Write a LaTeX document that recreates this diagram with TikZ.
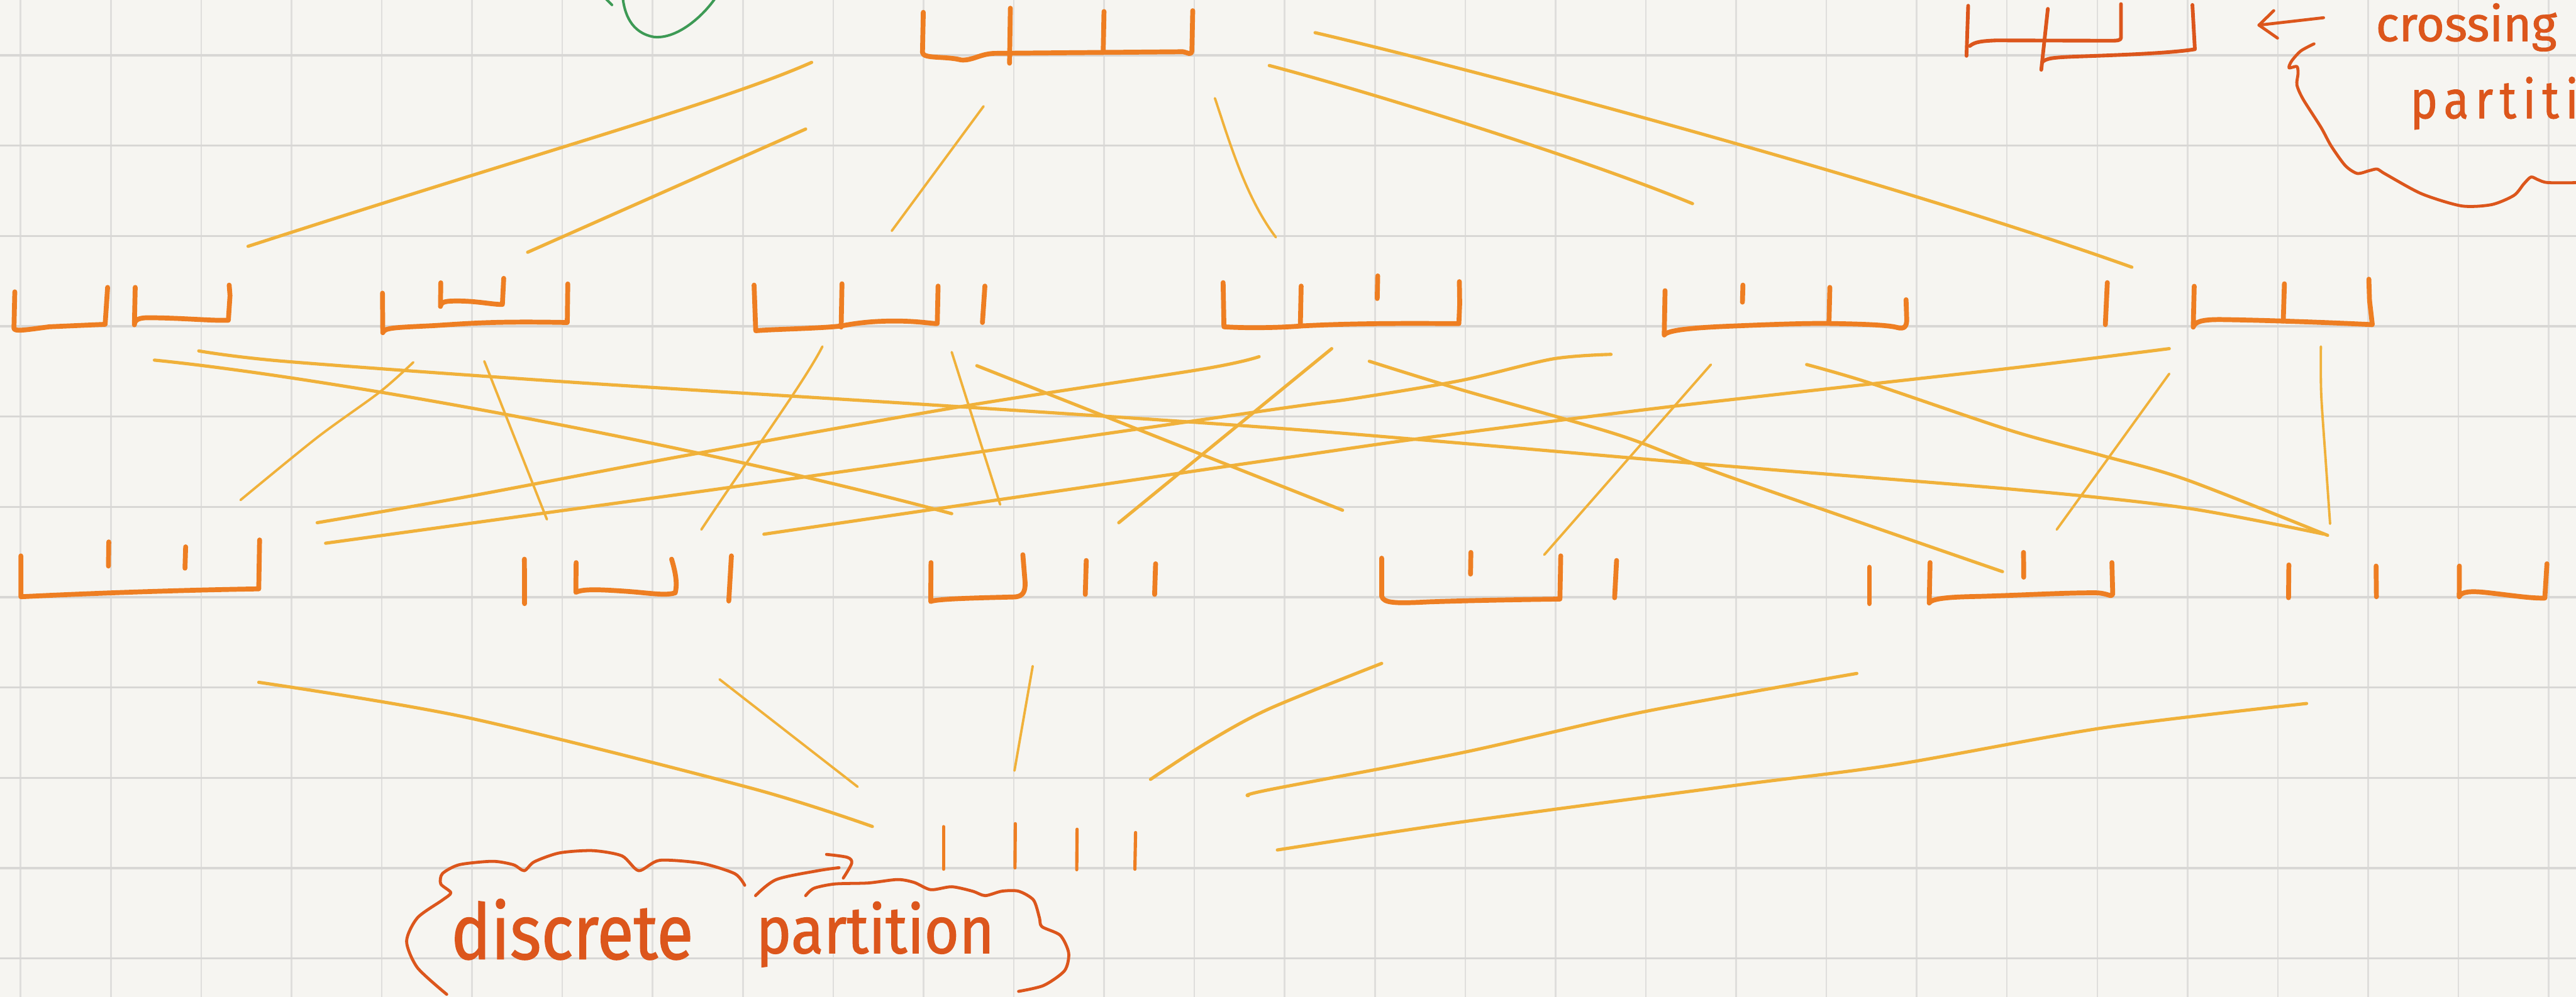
\documentclass[tikz,border=0pt]{standalone}
\usepackage{fontspec}
\setmainfont{Fira Sans}
\newfontfamily\hand{Fira Sans}[FakeBold=1.2]
\newfontfamily\handwide{Fira Sans}[FakeBold=1.2, LetterSpace=14]
\definecolor{paper}{HTML}{F6F5F1}
\definecolor{gridv}{HTML}{DFDEDC}
\definecolor{gridh}{HTML}{D8D7D5}
\definecolor{partc}{HTML}{EE7E22}
\definecolor{edgec}{HTML}{F0B13A}
\definecolor{inkc}{HTML}{DC561C}
\definecolor{greenc}{HTML}{3D9A55}
\tikzset{
 part/.style={draw=partc, line width=4.2pt, line cap=round, line join=round},
 thinpart/.style={part, line width=2.8pt},
 edge/.style={draw=edgec, line width=2.8pt, line cap=round, line join=round},
 thinedge/.style={edge, line width=2.1pt},
 ink/.style={draw=inkc, line width=2.6pt, line cap=round, line join=round},
 inkpart/.style={draw=inkc, line width=3.2pt, line cap=round, line join=round},
 inktext/.style={text=inkc, inner sep=0pt, anchor=base west},
 greenline/.style={draw=greenc, line width=2.2pt, line cap=round},
}
\begin{document}
\begin{tikzpicture}[x=0.05cm,y=-0.05cm]
\fill[paper] (0,0) rectangle (1568,607);
\useasboundingbox (0,0) rectangle (1568,607);
\clip (0,0) rectangle (1568,607);
% grid
\foreach \i in {0,...,28} \draw[draw=gridv, line width=1.4pt] ({12.5+54.96*\i},0) -- ({12.5+54.96*\i},607);
\foreach \j in {0,...,10} \draw[draw=gridh, line width=1.8pt] (0,{33.7+55*\j}) -- (1568,{33.7+55*\j});

% green stroke
\draw[greenline] (379,-2) .. controls (380,8) and (384,20) .. (398,22.5) .. controls (412,24) and (428,10) .. (436,-2);
\draw[greenline] (368.5,-1) -- (372.5,3);

% ===== top partition {1234}
\draw[part] (562,7.5) -- (561.5,32) .. controls (562,36) and (575,34) .. (585,36.5) .. controls (592,37) and (596,33) .. (605,32.5) -- (720,31.5) .. controls (723,32) and (725,34) .. (725.5,31) -- (726,6.5);
\draw[part] (615,5) -- (614.5,38.5);
\draw[part] (672,7) -- (671.5,32);

% ===== row 2
% A {12}{34}
\draw[part] (9,177.7) -- (8.5,200) .. controls (9,202) and (15,201) .. (30,199) -- (64,197.5) -- (65.5,175);
\draw[part] (82.3,175) -- (81.8,197.8) .. controls (82,195) and (84,193.5) .. (90,193.5) .. controls (110,193.5) and (130,195.5) .. (139,195) -- (140,180) -- (139.5,173.6);
% B {14}{23}
\draw[part] (232.8,178.5) -- (233,202.6) .. controls (234,199.5) and (240,199.5) .. (264,198.3) .. controls (285,197) and (300,195.5) .. (345.3,196.4) -- (345.6,172.9);
\draw[part] (268.3,172.2) -- (268.1,186.6) .. controls (268.5,183.5) and (272,183.3) .. (278,183.3) .. controls (290,183.2) and (300,185.5) .. (305.8,185.4) -- (306.6,169.5);
% C {123}{4}
\draw[part] (459,173.6) -- (460,201.4) .. controls (470,200.5) and (500,200) .. (512,198.5) .. controls (525,196) and (535,195.5) .. (545,195.5) .. controls (560,195.5) and (570,197.5) .. (570.5,197) -- (571,174.2);
\draw[part] (512.5,172.8) -- (512,199.2);
\draw[part] (599.5,174.2) -- (598,196.4);
% D {124}{3}
\draw[part] (744.5,172.1) -- (745,199) .. controls (760,200) and (780,199.5) .. (792,198.5) .. controls (820,197) and (850,196.8) .. (888,197.1) -- (888.5,185) -- (888.3,171.5);
\draw[part] (792,174.2) -- (791.5,198.5);
\draw[part] (838.6,168) -- (838.3,181.8);
% E {134}{2}
\draw[part] (1013.5,177) -- (1013,204) .. controls (1015,201) and (1030,199.5) .. (1056,198.5) .. controls (1080,197.5) and (1100,196.8) .. (1113,197) .. controls (1135,197.3) and (1150,198) .. (1155,199.5) .. controls (1159,200.5) and (1160.5,199) .. (1160.6,195) -- (1160.2,182.5);
\draw[part] (1113.8,175) -- (1113.3,196);
\draw[part] (1060.9,173.6) -- (1060.6,184);
% F {1}{234}
\draw[part] (1335.6,174.3) -- (1335,199.2) .. controls (1336,196) and (1340,194.5) .. (1352,194.6) .. controls (1380,195) and (1420,196.5) .. (1444,197.7) -- (1442.3,183) -- (1441.9,170);
\draw[part] (1390.5,172.8) -- (1389.8,195.5);
\draw[part] (1282.7,172.1) -- (1281.5,197.7);

% ===== row 3
% G {14}{2}{3}
\draw[part] (12.7,338.5) -- (12.7,363.4) .. controls (40,362) and (100,359.5) .. (157.5,358.6) -- (158,328.8);
\draw[part] (66.2,330) -- (66,344.7);
\draw[part] (113,333) -- (112.6,346);
% H {1}{23}{4}
\draw[part] (350.7,342.6) -- (350.5,360.7) .. controls (355,358.5) and (365,359) .. (380,360) .. controls (395,361) and (405,363) .. (411,361) .. controls (412.5,355) and (411,348) .. (408.8,340.5);
\draw[part] (319.2,340.5) -- (319.3,367.6);
\draw[part] (445.2,338.5) -- (443.6,366);
% I {12}{3}{4}
\draw[part] (566.7,342.6) -- (566.5,366.3) .. controls (570,364.5) and (600,364) .. (618,363.5) .. controls (623,363) and (624,360) .. (624,355) -- (622.6,337.8);
\draw[part] (661.2,341.3) -- (660.6,362);
\draw[part] (703.4,343.3) -- (702.8,362);
% J {13}{2}{4}
\draw[part] (841,339.9) -- (841,363) .. controls (842,367.5) and (850,367.5) .. (870,366.5) .. controls (900,365.5) and (935,365) .. (949.5,364.8) -- (950,338.5);
\draw[part] (895.3,336.4) -- (895.1,349.6);
\draw[part] (984,341.3) -- (982.8,364);
% K {1}{24}{3}
\draw[part] (1174.8,342.6) -- (1174.3,367.2) .. controls (1176,364) and (1190,363.5) .. (1204,363.2) .. controls (1230,362.5) and (1255,361) .. (1275,361) .. controls (1283,361) and (1285,364) .. (1286,362) -- (1285.5,342.6);
\draw[part] (1137.9,345.4) -- (1137.9,367.6);
\draw[part] (1231.7,336.4) -- (1231.8,351.5);
% L {1}{2}{34}
\draw[part] (1497,344.7) -- (1496.9,363.4) .. controls (1498,360) and (1505,360) .. (1512,360.7) .. controls (1525,362) and (1540,364.5) .. (1549,364.2) -- (1550.3,343.3);
\draw[part] (1393.2,344) -- (1393,364);
\draw[part] (1446.3,344.7) -- (1446.5,363.4);

% ===== bottom: discrete partition
\draw[thinpart] (574.3,503.4) -- (574.3,529.3);
\draw[thinpart] (618,501.6) -- (617.8,528.5);
\draw[thinpart] (655.6,505) -- (655.4,529.6);
\draw[thinpart] (691.2,507) -- (690.8,529.3);

% ===== crossing partition (top right)
\draw[inkpart] (1198,3.5) -- (1197,34);
\draw[inkpart] (1199,28) .. controls (1202,25.5) and (1206,25) .. (1215,24.6) -- (1285,24.8) .. controls (1289,24.8) and (1291,24.5) .. (1291,23) -- (1291,2.5);
\draw[inkpart] (1246.5,5.4) -- (1242.5,42.5);
\draw[inkpart] (1243,38) .. controls (1245,35.5) and (1250,35) .. (1262,34.5) .. controls (1290,33.5) and (1320,32.5) .. (1336,30) -- (1334.5,3);

% ===== edges: top -> row 2
\coordinate (TAa) at (494,38);      \coordinate (TAb) at (151,150);
\coordinate (TBa) at (490.4,78.6);  \coordinate (TBb) at (321.2,153.6);
\coordinate (TCa) at (598.7,64.7);  \coordinate (TCb) at (542.8,140.6);
\coordinate (TDa) at (739.5,59.8);  \coordinate (TDb) at (776.6,144.5);
\coordinate (TEa) at (772.6,39.9);  \coordinate (TEb) at (1030.2,124);
\coordinate (TFa) at (800.5,19.9);  \coordinate (TFb) at (1297.6,162.7);
\draw[edge] (TAa) .. controls (440,62) and (330,92) .. (TAb);
\draw[edge] (TBa) -- (TBb);
\draw[thinedge] (TCa) -- (TCb);
\draw[thinedge] (TDa) .. controls (748,85) and (758,120) .. (TDb);
\draw[edge] (TEa) .. controls (830,55) and (960,95) .. (TEb);
\draw[edge] (TFa) .. controls (900,43) and (1150,110) .. (TFb);

% ===== edges: row 2 -> row 3
\coordinate (AIa) at (94,219.3);     \coordinate (AIb) at (579.3,312.8);
\coordinate (ALa) at (121,213.7);    \coordinate (ALb) at (1414.3,325.2);
\coordinate (BGa) at (251.6,220.6);  \coordinate (BGb) at (146.4,304.5);
\coordinate (BHa) at (294.8,220);    \coordinate (BHb) at (332.9,316.3);
\coordinate (CHa) at (500.6,211);    \coordinate (CHb) at (426.9,322.5);
\coordinate (CIa) at (579.3,214.4);  \coordinate (CIb) at (608.8,307.3);
\coordinate (CJa) at (594.6,222.7);  \coordinate (CJb) at (817.2,310.7);
\coordinate (DGa) at (766.4,217.2);  \coordinate (DGb) at (193.1,318.3);
\coordinate (DIa) at (810.6,212.3);  \coordinate (DIb) at (681,318.3);
\coordinate (DKa) at (833.5,220);    \coordinate (DKb) at (1218.9,348.1);
\coordinate (EGa) at (980.6,215.8);  \coordinate (EGb) at (198.2,330.8);
\coordinate (EJa) at (1041.4,222);   \coordinate (EJb) at (940,337.8);
\coordinate (ELa) at (1099.7,222);   \coordinate (ELb) at (1416.8,326);
\coordinate (FHa) at (1320.4,212.3); \coordinate (FHb) at (465,325.3);
\coordinate (FKa) at (1320.4,227.6); \coordinate (FKb) at (1251.9,322.5);
\coordinate (FLa) at (1412.7,211);   \coordinate (FLb) at (1418.3,319);
\draw[edge] (AIa) .. controls (200,230) and (420,270) .. (AIb);
\draw[edge] plot[smooth, tension=0.5] coordinates {(ALa) (172.8,220) (345.6,232.6) (584.5,247.7) (796.7,262.2) (1041.4,283) (1229,298.3) (1330.5,309.3) (ALb)};
\draw[thinedge] plot[smooth, tension=0.5] coordinates {(BGa) (231.2,238.7) (193.1,266.4) (BGb)};
\draw[thinedge] (BHa) -- (BHb);
\draw[thinedge] (CHa) .. controls (490,232) and (455,280) .. (CHb);
\draw[thinedge] (CIa) -- (CIb);
\draw[edge] (CJa) -- (CJb);
\draw[edge] plot[smooth, tension=0.5] coordinates {(DGa) (731.8,224.8) (584.4,247.7) (416.7,277.5) (284.6,302.4) (DGb)};
\draw[edge] (DIa) -- (DIb);
\draw[edge] plot[smooth, tension=0.5] coordinates {(DKa) (889.3,237.3) (985.6,265) (1051.6,290) (DKb)};
\draw[edge] plot[smooth, tension=0.5] coordinates {(EGa) (945,218.6) (889.3,231.7) (823.3,242.8) (772.6,249.7) (500,289) (EGb)};
\draw[thinedge] (EJa) -- (EJb);
\draw[edge] plot[smooth, tension=0.5] coordinates {(ELa) (1137.8,233.1) (1224,262.2) (1279.8,277.5) (1330.5,292) (ELb)};
\draw[edge] plot[smooth, tension=0.5] coordinates {(FHa) (1218.9,224.8) (1016.1,247.7) (869,266.4) (772.6,280.2) (FHb)};
\draw[thinedge] (FKa) -- (FKb);
\draw[thinedge] plot[smooth, tension=0.5] coordinates {(FLa) (1412.9,240) (1415.7,281.6) (FLb)};

% ===== edges: row 3 -> bottom
\coordinate (GBa) at (157.5,415.5);  \coordinate (GBb) at (531,503.3);
\coordinate (HBa) at (438,413.7);    \coordinate (HBb) at (522,479.1);
\coordinate (IBa) at (628.6,405.6);  \coordinate (IBb) at (617.5,469.3);
\coordinate (JBa) at (841,404);      \coordinate (JBb) at (700.3,474.6);
\coordinate (KBa) at (1130.2,410.1); \coordinate (KBb) at (759.8,484.5);
\coordinate (LBa) at (1404,428.4);   \coordinate (LBb) at (777.5,517.6);
\draw[edge] plot[smooth, tension=0.5] coordinates {(GBa) (284.6,437) (457.4,480) (GBb)};
\draw[thinedge] (HBa) -- (HBb);
\draw[thinedge] (IBa) -- (IBb);
\draw[edge] plot[smooth, tension=0.5] coordinates {(JBa) (772.6,431.6) (735,452) (JBb)};
\draw[edge] plot[smooth, tension=0.5] coordinates {(KBa) (1000.8,433.4) (889.3,458.5) (772.6,480.9) (KBb)};
\draw[edge] plot[smooth, tension=0.5] coordinates {(LBa) (1279.8,443.3) (1153,465.7) (1056.6,478.2) (889.3,500.6) (LBb)};

% ===== label: crossing partition
\node[inktext, font=\hand\fontsize{42}{42}\selectfont] (crossing) at (1446,25) {crossing};
\node[inktext, font=\handwide\fontsize{40}{40}\selectfont] (partR) at (1467,72) {\scalebox{1}[1.15]{partition}};
\coordinate (arrS) at (1414.3,10.8);
\coordinate (arrT) at (1375,15.3);
\draw[ink] (arrS) -- (arrT);
\draw[ink] (arrT) ++(9,-8.8) -- (arrT) -- ++(11.3,7.9);
\coordinate (curlS) at (1408.5,26.7);
\draw[ink] plot[smooth, tension=0.45] coordinates {(curlS) (1400.5,31) (1395,37) (1393.3,41.3) (1398.1,40.5) (1398.8,44.8) (1398.1,51.7) (1401.8,60.3) (1412.8,77.6) (1418.9,88.8) (1427.5,100.8) (1434.8,105.6) (1442.2,103.9) (1447,103) (1452,106) (1474,118) (1498.3,125.4) (1516.7,124.6) (1530.2,119) (1536.2,112) (1540.6,107.8) (1545,109.5) (1551,111.2) (1572,111.2)};

% ===== label: discrete partition
\node[inktext, font=\hand\fontsize{58}{58}\selectfont] (discrete) at (274.4,584) {\scalebox{1}[1.15]{discrete}};
\node[inktext, font=\hand\fontsize{52}{52}\selectfont] (partB) at (460,580.4) {\scalebox{1}[1.1]{partition}};
\draw[ink] plot[smooth, tension=0.45] coordinates {(271.9,605.5) (254.1,589.3) (247.5,573.2) (254.1,558.9) (269.3,548.1) (274.4,543.6) (268.3,538.3) (269.3,532) (279.5,526.6) (299.8,524.5) (312.5,526.6) (319.1,530.2) (325.2,524.8) (340.5,519.4) (360.8,518) (378.6,521.2) (388.8,530.2) (401.5,523.9) (426.9,525.7) (447.2,532) (453.3,539.1)};
\coordinate (barrS) at (459.9,545.4);
\coordinate (barrT) at (510.7,528.4);
\draw[ink] plot[smooth, tension=0.5] coordinates {(barrS) (472.6,535.6) (498,530.2) (barrT)};
\draw[ink] plot[smooth, tension=0.5] coordinates {(503.1,520.3) (515.8,522.1) (518.4,525.7) (513.3,534.7)};
\draw[ink] plot[smooth, tension=0.45] coordinates {(490.4,545.4) (495.5,540.9) (508.2,538.3) (528.5,537.7) (546.3,535.6) (556.5,537.4) (566.6,541.8) (579.3,540) (592,542.7) (599.7,545.4) (609.8,542.7) (620,542.7) (629.1,548.1) (632.7,558.9) (634.2,564.3) (645.4,569.6) (650.5,580.4) (648,591.1) (635.3,600.1) (620,603.7)};
\end{tikzpicture}
\end{document}
